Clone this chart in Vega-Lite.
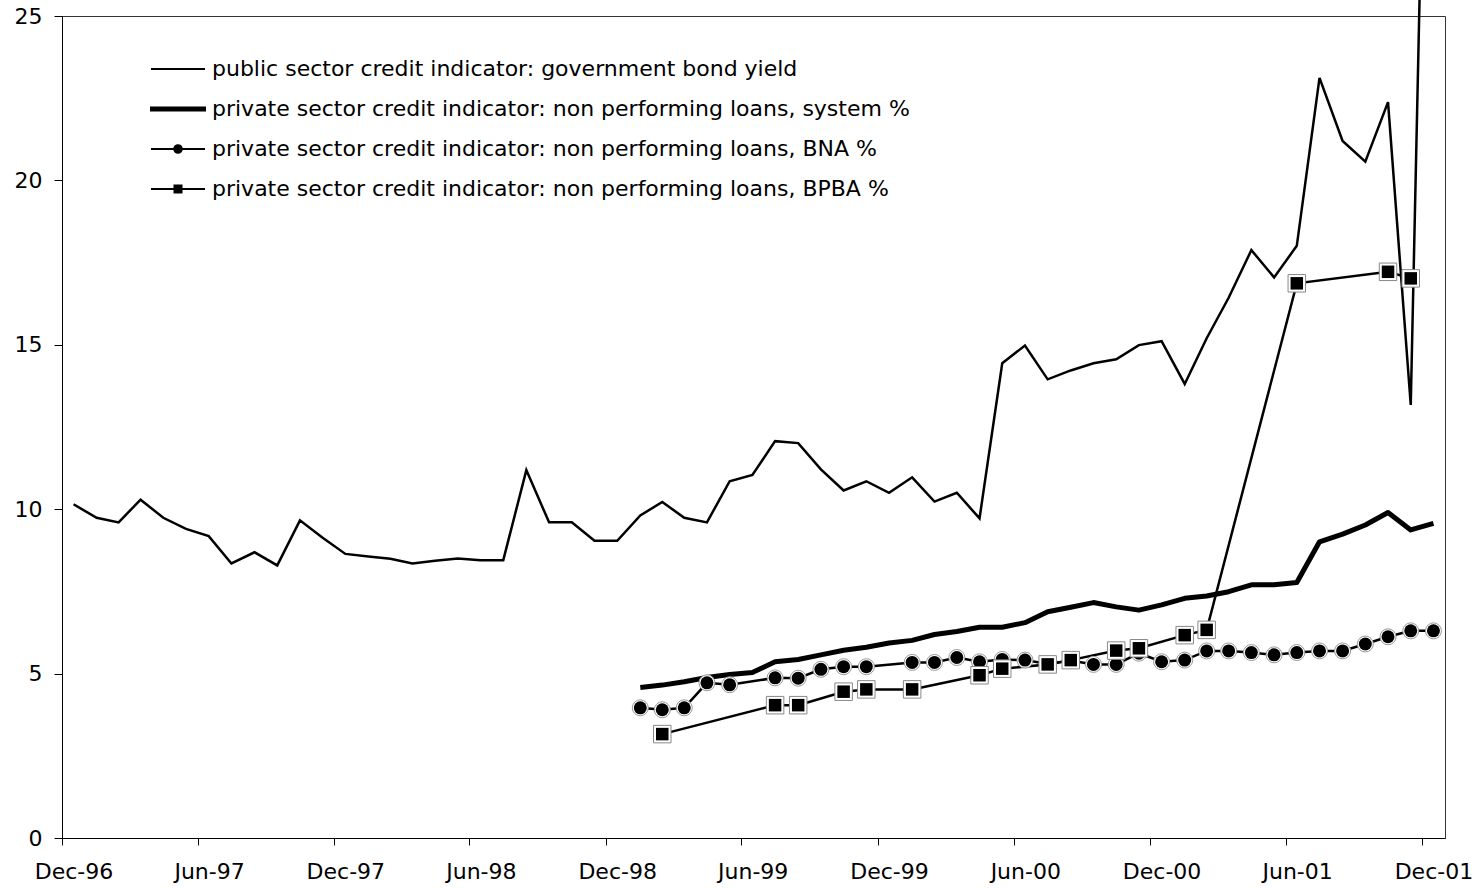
{
  "$schema": "https://vega.github.io/schema/vega-lite/v6.json",
  "width": 1383,
  "height": 822,
  "autosize": {"type": "none"},
  "padding": {"left": 62, "top": 16, "right": 37, "bottom": 50},
  "background": "white",
  "config": {
    "font": "DejaVu Sans",
    "view": {"stroke": "#333", "strokeWidth": 1},
    "axis": {"grid": false, "domainColor": "#000", "tickColor": "#000", "labelColor": "#000", "labelFont": "DejaVu Sans", "labelFontSize": 22, "title": null, "domainWidth": 1, "tickWidth": 1}
  },
  "data": {
    "values": [
      {"date": "1996-12", "series": "yield", "value": 10.15},
      {"date": "1997-01", "series": "yield", "value": 9.74},
      {"date": "1997-02", "series": "yield", "value": 9.60},
      {"date": "1997-03", "series": "yield", "value": 10.29},
      {"date": "1997-04", "series": "yield", "value": 9.74},
      {"date": "1997-05", "series": "yield", "value": 9.40},
      {"date": "1997-06", "series": "yield", "value": 9.18},
      {"date": "1997-07", "series": "yield", "value": 8.35},
      {"date": "1997-08", "series": "yield", "value": 8.69},
      {"date": "1997-09", "series": "yield", "value": 8.29},
      {"date": "1997-10", "series": "yield", "value": 9.66},
      {"date": "1997-11", "series": "yield", "value": 9.13},
      {"date": "1997-12", "series": "yield", "value": 8.64},
      {"date": "1998-01", "series": "yield", "value": 8.56},
      {"date": "1998-02", "series": "yield", "value": 8.49},
      {"date": "1998-03", "series": "yield", "value": 8.35},
      {"date": "1998-04", "series": "yield", "value": 8.43},
      {"date": "1998-05", "series": "yield", "value": 8.50},
      {"date": "1998-06", "series": "yield", "value": 8.45},
      {"date": "1998-07", "series": "yield", "value": 8.45},
      {"date": "1998-08", "series": "yield", "value": 11.19},
      {"date": "1998-09", "series": "yield", "value": 9.60},
      {"date": "1998-10", "series": "yield", "value": 9.60},
      {"date": "1998-11", "series": "yield", "value": 9.04},
      {"date": "1998-12", "series": "yield", "value": 9.04},
      {"date": "1999-01", "series": "yield", "value": 9.81},
      {"date": "1999-02", "series": "yield", "value": 10.22},
      {"date": "1999-03", "series": "yield", "value": 9.74},
      {"date": "1999-04", "series": "yield", "value": 9.60},
      {"date": "1999-05", "series": "yield", "value": 10.85},
      {"date": "1999-06", "series": "yield", "value": 11.04},
      {"date": "1999-07", "series": "yield", "value": 12.07},
      {"date": "1999-08", "series": "yield", "value": 12.01},
      {"date": "1999-09", "series": "yield", "value": 11.21},
      {"date": "1999-10", "series": "yield", "value": 10.57},
      {"date": "1999-11", "series": "yield", "value": 10.85},
      {"date": "1999-12", "series": "yield", "value": 10.50},
      {"date": "2000-01", "series": "yield", "value": 10.97},
      {"date": "2000-02", "series": "yield", "value": 10.23},
      {"date": "2000-03", "series": "yield", "value": 10.50},
      {"date": "2000-04", "series": "yield", "value": 9.72},
      {"date": "2000-05", "series": "yield", "value": 14.44},
      {"date": "2000-06", "series": "yield", "value": 14.98},
      {"date": "2000-07", "series": "yield", "value": 13.95},
      {"date": "2000-08", "series": "yield", "value": 14.22},
      {"date": "2000-09", "series": "yield", "value": 14.44},
      {"date": "2000-10", "series": "yield", "value": 14.56},
      {"date": "2000-11", "series": "yield", "value": 14.99},
      {"date": "2000-12", "series": "yield", "value": 15.11},
      {"date": "2001-01", "series": "yield", "value": 13.81},
      {"date": "2001-02", "series": "yield", "value": 15.20},
      {"date": "2001-03", "series": "yield", "value": 16.43},
      {"date": "2001-04", "series": "yield", "value": 17.88},
      {"date": "2001-05", "series": "yield", "value": 17.05},
      {"date": "2001-06", "series": "yield", "value": 18.01},
      {"date": "2001-07", "series": "yield", "value": 23.12},
      {"date": "2001-08", "series": "yield", "value": 21.20},
      {"date": "2001-09", "series": "yield", "value": 20.57},
      {"date": "2001-10", "series": "yield", "value": 22.38},
      {"date": "2001-11", "series": "yield", "value": 13.17},
      {"date": "2001-12", "series": "yield", "value": 45.0},

      {"date": "1999-01", "series": "system", "value": 4.58},
      {"date": "1999-02", "series": "system", "value": 4.65},
      {"date": "1999-03", "series": "system", "value": 4.75},
      {"date": "1999-04", "series": "system", "value": 4.88},
      {"date": "1999-05", "series": "system", "value": 4.97},
      {"date": "1999-06", "series": "system", "value": 5.03},
      {"date": "1999-07", "series": "system", "value": 5.36},
      {"date": "1999-08", "series": "system", "value": 5.43},
      {"date": "1999-09", "series": "system", "value": 5.57},
      {"date": "1999-10", "series": "system", "value": 5.71},
      {"date": "1999-11", "series": "system", "value": 5.80},
      {"date": "1999-12", "series": "system", "value": 5.93},
      {"date": "2000-01", "series": "system", "value": 6.01},
      {"date": "2000-02", "series": "system", "value": 6.19},
      {"date": "2000-03", "series": "system", "value": 6.28},
      {"date": "2000-04", "series": "system", "value": 6.41},
      {"date": "2000-05", "series": "system", "value": 6.41},
      {"date": "2000-06", "series": "system", "value": 6.55},
      {"date": "2000-07", "series": "system", "value": 6.88},
      {"date": "2000-08", "series": "system", "value": 7.02},
      {"date": "2000-09", "series": "system", "value": 7.16},
      {"date": "2000-10", "series": "system", "value": 7.03},
      {"date": "2000-11", "series": "system", "value": 6.93},
      {"date": "2000-12", "series": "system", "value": 7.09},
      {"date": "2001-01", "series": "system", "value": 7.29},
      {"date": "2001-02", "series": "system", "value": 7.36},
      {"date": "2001-03", "series": "system", "value": 7.49},
      {"date": "2001-04", "series": "system", "value": 7.70},
      {"date": "2001-05", "series": "system", "value": 7.70},
      {"date": "2001-06", "series": "system", "value": 7.77},
      {"date": "2001-07", "series": "system", "value": 9.01},
      {"date": "2001-08", "series": "system", "value": 9.24},
      {"date": "2001-09", "series": "system", "value": 9.52},
      {"date": "2001-10", "series": "system", "value": 9.90},
      {"date": "2001-11", "series": "system", "value": 9.37},
      {"date": "2001-12", "series": "system", "value": 9.57},

      {"date": "1999-01", "series": "BNA", "value": 3.96},
      {"date": "1999-02", "series": "BNA", "value": 3.90},
      {"date": "1999-03", "series": "BNA", "value": 3.96},
      {"date": "1999-04", "series": "BNA", "value": 4.72},
      {"date": "1999-05", "series": "BNA", "value": 4.66},
      {"date": "1999-07", "series": "BNA", "value": 4.87},
      {"date": "1999-08", "series": "BNA", "value": 4.86},
      {"date": "1999-09", "series": "BNA", "value": 5.13},
      {"date": "1999-10", "series": "BNA", "value": 5.21},
      {"date": "1999-11", "series": "BNA", "value": 5.21},
      {"date": "2000-01", "series": "BNA", "value": 5.34},
      {"date": "2000-02", "series": "BNA", "value": 5.34},
      {"date": "2000-03", "series": "BNA", "value": 5.49},
      {"date": "2000-04", "series": "BNA", "value": 5.36},
      {"date": "2000-05", "series": "BNA", "value": 5.43},
      {"date": "2000-06", "series": "BNA", "value": 5.41},
      {"date": "2000-07", "series": "BNA", "value": 5.29},
      {"date": "2000-08", "series": "BNA", "value": 5.40},
      {"date": "2000-09", "series": "BNA", "value": 5.28},
      {"date": "2000-10", "series": "BNA", "value": 5.28},
      {"date": "2000-11", "series": "BNA", "value": 5.62},
      {"date": "2000-12", "series": "BNA", "value": 5.36},
      {"date": "2001-01", "series": "BNA", "value": 5.41},
      {"date": "2001-02", "series": "BNA", "value": 5.69},
      {"date": "2001-03", "series": "BNA", "value": 5.69},
      {"date": "2001-04", "series": "BNA", "value": 5.64},
      {"date": "2001-05", "series": "BNA", "value": 5.57},
      {"date": "2001-06", "series": "BNA", "value": 5.64},
      {"date": "2001-07", "series": "BNA", "value": 5.69},
      {"date": "2001-08", "series": "BNA", "value": 5.69},
      {"date": "2001-09", "series": "BNA", "value": 5.90},
      {"date": "2001-10", "series": "BNA", "value": 6.12},
      {"date": "2001-11", "series": "BNA", "value": 6.30},
      {"date": "2001-12", "series": "BNA", "value": 6.30},

      {"date": "1999-02", "series": "BPBA", "value": 3.16},
      {"date": "1999-07", "series": "BPBA", "value": 4.04},
      {"date": "1999-08", "series": "BPBA", "value": 4.04},
      {"date": "1999-10", "series": "BPBA", "value": 4.45},
      {"date": "1999-11", "series": "BPBA", "value": 4.52},
      {"date": "2000-01", "series": "BPBA", "value": 4.52},
      {"date": "2000-04", "series": "BPBA", "value": 4.95},
      {"date": "2000-05", "series": "BPBA", "value": 5.15},
      {"date": "2000-07", "series": "BPBA", "value": 5.28},
      {"date": "2000-08", "series": "BPBA", "value": 5.41},
      {"date": "2000-10", "series": "BPBA", "value": 5.70},
      {"date": "2000-11", "series": "BPBA", "value": 5.77},
      {"date": "2001-01", "series": "BPBA", "value": 6.17},
      {"date": "2001-02", "series": "BPBA", "value": 6.33},
      {"date": "2001-06", "series": "BPBA", "value": 16.87},
      {"date": "2001-10", "series": "BPBA", "value": 17.22},
      {"date": "2001-11", "series": "BPBA", "value": 17.02}
    ]
  },
  "encoding": {
    "x": {
      "field": "date", "type": "temporal", "timeUnit": "utcyearmonth", "bandPosition": 0.5,
      "scale": {"type": "utc", "domain": [{"year": 1996, "month": 12, "date": 1, "utc": true}, {"year": 2002, "month": 1, "date": 1, "utc": true}]},
      "axis": {
        "values": [
          {"year": 1996, "month": 12, "date": 1, "utc": true},
          {"year": 1997, "month": 6, "date": 1, "utc": true},
          {"year": 1997, "month": 12, "date": 1, "utc": true},
          {"year": 1998, "month": 6, "date": 1, "utc": true},
          {"year": 1998, "month": 12, "date": 1, "utc": true},
          {"year": 1999, "month": 6, "date": 1, "utc": true},
          {"year": 1999, "month": 12, "date": 1, "utc": true},
          {"year": 2000, "month": 6, "date": 1, "utc": true},
          {"year": 2000, "month": 12, "date": 1, "utc": true},
          {"year": 2001, "month": 6, "date": 1, "utc": true},
          {"year": 2001, "month": 12, "date": 1, "utc": true}
        ],
        "format": "%b-%y", "tickSize": 7, "labelPadding": 16, "labelOffset": 11.5,
        "labelOverlap": false, "labelFlush": false, "labelBound": false, "labelAngle": 0
      }
    },
    "y": {
      "field": "value", "type": "quantitative",
      "scale": {"domain": [0, 25], "nice": false, "zero": true},
      "axis": {"values": [0, 5, 10, 15, 20, 25], "tickSize": 8, "labelPadding": 12, "labelFlush": false}
    }
  },
  "layer": [
    {
      "transform": [{"filter": "datum.series !== 'system'"}],
      "mark": {"type": "line", "strokeWidth": 2.5, "strokeJoin": "miter", "clip": false},
      "encoding": {
        "color": {
          "field": "series", "type": "nominal",
          "scale": {"domain": ["yield", "system", "BNA", "BPBA"], "range": ["#000000", "#000000", "#000000", "#000000"]},
          "legend": {
            "orient": "none", "legendX": 88, "legendY": 41, "title": null, "padding": 0,
            "labelExpr": "datum.value === 'yield' ? 'public sector credit indicator: government bond yield' : datum.value === 'system' ? 'private sector credit indicator: non performing loans, system %' : datum.value === 'BNA' ? 'private sector credit indicator: non performing loans, BNA %' : 'private sector credit indicator: non performing loans, BPBA %'",
            "labelFont": "DejaVu Sans", "labelFontSize": 22, "labelColor": "#000", "labelLimit": 1000, "labelOffset": 6,
            "symbolSize": 2916, "symbolStrokeWidth": 2, "symbolStrokeColor": "#000", "symbolFillColor": "#000",
            "clipHeight": 24, "rowPadding": 16,
            "encode": {
              "symbols": {
                "update": {
                  "shape": {"signal": "datum.value === 'yield' ? 'M-1,0H1' : datum.value === 'system' ? 'M-1,-0.06H1V0.06H-1Z' : datum.value === 'BNA' ? 'M-1,0H1M0.14,0A0.14,0.14,0,1,1,-0.14,0A0.14,0.14,0,1,1,0.14,0Z' : 'M-1,0H1M-0.13,-0.13H0.13V0.13H-0.13Z'"},
                  "fill": {"value": "#000"},
                  "stroke": {"value": "#000"},
                  "strokeWidth": {"value": 2},
                  "opacity": {"value": 1}
                }
              }
            }
          }
        }
      }
    },
    {
      "transform": [{"filter": "datum.series === 'system'"}],
      "mark": {"type": "line", "strokeWidth": 5, "strokeJoin": "round"},
      "encoding": {
        "color": {"field": "series", "type": "nominal"}
      }
    },
    {
      "transform": [{"filter": "datum.series === 'BNA'"}],
      "mark": {"type": "point", "shape": "circle", "filled": true, "fill": "#fff", "stroke": "#999", "strokeWidth": 1, "size": 256, "opacity": 1}
    },
    {
      "transform": [{"filter": "datum.series === 'BNA'"}],
      "mark": {"type": "point", "shape": "circle", "filled": true, "fill": "#000", "strokeWidth": 0, "size": 169, "opacity": 1}
    },
    {
      "transform": [{"filter": "datum.series === 'BPBA'"}],
      "mark": {"type": "point", "shape": "square", "filled": true, "fill": "#fff", "stroke": "#888", "strokeWidth": 1, "size": 306, "opacity": 1}
    },
    {
      "transform": [{"filter": "datum.series === 'BPBA'"}],
      "mark": {"type": "point", "shape": "square", "filled": true, "fill": "#000", "strokeWidth": 0, "size": 156, "opacity": 1}
    }
  ]
}
